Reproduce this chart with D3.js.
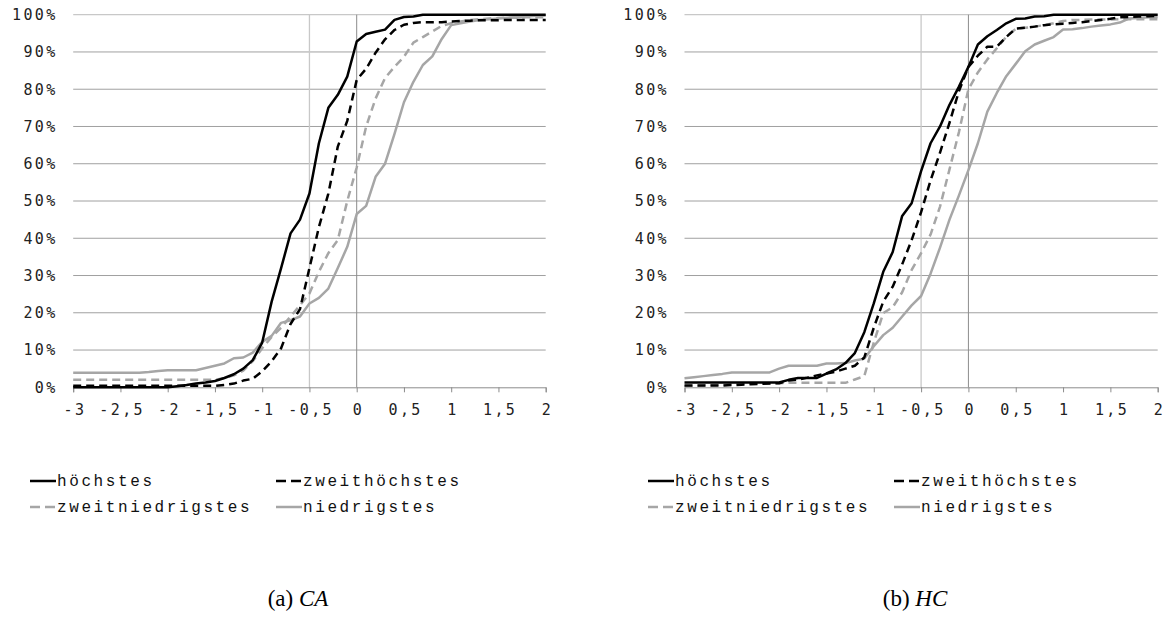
<!DOCTYPE html>
<html>
<head>
<meta charset="utf-8">
<script src="https://cdn.jsdelivr.net/npm/d3@7/dist/d3.min.js"></script>
<style>
  html, body { margin: 0; padding: 0; background: #fff; }
  svg { display: block; }
</style>
</head>
<body>
<svg id="chart" width="1166" height="629"></svg>
<script>
// ---------- DATA ----------
const xValues = [-3.0,-2.9,-2.8,-2.7,-2.6,-2.5,-2.4,-2.3,-2.2,-2.1,-2.0,-1.9,-1.8,-1.7,-1.6,-1.5,-1.4,-1.3,-1.2,-1.1,-1.0,
  -0.9,-0.8,-0.7,-0.6,-0.5,-0.4,-0.3,-0.2,-0.1,0.0,0.1,0.2,0.3,0.4,0.5,0.6,0.7,0.8,0.9,1.0,
  1.1,1.2,1.3,1.4,1.5,1.6,1.7,1.8,1.9,2.0];

const xTickValues = [-3,-2.5,-2,-1.5,-1,-0.5,0,0.5,1,1.5,2];
const xTickLabels = ["-3","-2,5","-2","-1,5","-1","-0,5","0","0,5","1","1,5","2"];
const yTickValues = [0,10,20,30,40,50,60,70,80,90,100];
const yTickLabels = ["0%","10%","20%","30%","40%","50%","60%","70%","80%","90%","100%"];

const seriesNames = ["höchstes","zweithöchstes","zweitniedrigstes","niedrigstes"];
const panelCaptions = [["(a) ","CA"],["(b) ","HC"]];

// CA panel (percent)
const caHoechstes = [0,0,0,0,0,0,0,0,0,0,0,
  0.3,0.6,1.0,1.3,1.7,2.5,3.5,5,7.3,12,
  23,32,41.3,45,52,65.5,75,78.5,83.4,92.8,
  94.8,95.4,96,98.6,99.4,99.5,100,100,100,100,
  100,100,100,100,100,100,100,100,100,100];
const caZweithoechstes = [0.4,0.4,0.4,0.4,0.4,0.4,0.4,0.4,0.4,0.4,0.4,0.4,0.4,0.4,0.4,0.4,
  0.6,1,1.8,2.3,4.3,7,10.5,17,21,32,43,52,64.6,71.5,82.5,
  85.5,89.8,93.4,95.9,97.3,97.8,98,98,98,98.2,
  98.3,98.4,98.5,98.5,98.5,98.6,98.6,98.6,98.6,98.6];
const caZweitniedrigstes = [2,2,2,2,2,2,2,2,2,2,2,2,2,2,2,2,
  2.5,3.2,4.5,7,10.5,13.5,16,19,22,25.2,31,36,39.5,50,59,
  70,77.5,83,86,88.7,92.5,94,95.5,97,97.7,
  98.2,98.6,98.8,99,99.1,99.2,99.2,99.3,99.3,99.3];
const caNiedrigstes = [3.9,3.9,3.9,3.9,3.9,3.9,3.9,3.9,
  4.1,4.4,4.6,4.6,4.6,4.6,5.2,5.8,
  6.4,7.8,8,9.3,12.2,13.8,17.3,18,19,22.5,
  24,26.5,32,37.7,46.5,
  48.7,56.5,60,68,76.5,82,86.5,88.8,93.5,97.2,
  97.7,98.2,98.6,98.8,99,99.2,99.4,99.5,99.7,99.8];

// HC panel (percent)
const hcHoechstes = [1.3,1.3,1.3,1.3,1.3,1.3,1.3,1.3,1.3,1.3,1.3,
  2,2.5,2.5,2.5,3.7,4.8,6.5,9.2,14.8,22.5,
  31,36.3,46,49.4,58,65.5,70,75.8,80.7,86,
  92,94.2,95.9,97.7,98.9,99,99.5,99.6,100,100,
  100,100,100,100,100,100,100,100,100,100];
const hcZweithoechstes = [0.5,0.5,0.5,0.5,0.5,0.6,0.7,0.8,0.9,1.0,1.1,
  1.8,2.1,2.6,3.2,3.7,4.2,5,5.8,8,16,
  23,27,33,39.5,47,55.5,63,71,79.5,86,
  89,91.4,91.4,94,96.3,96.5,96.8,97.2,97.4,97.6,
  97.8,98.0,98.3,98.6,98.9,99.3,99.4,99.5,99.6,99.7];
const hcZweitniedrigstes = [0.3,0.4,0.5,0.6,0.7,0.8,0.9,1.0,1.0,1.0,1.1,
  1.2,1.2,1.2,1.2,1.2,1.2,1.2,2.1,3.0,12,
  19.9,21.5,25.5,31.5,36,41,48.5,58.5,68.5,80,
  84.5,88,91,94.1,96.2,96.5,96.8,97.2,97.7,98.3,
  98.6,98.6,98.7,98.7,98.7,98.8,98.8,98.8,98.8,98.8];
const hcNiedrigstes = [2.4,2.7,3.0,3.3,3.6,4.0,4.0,4.0,4.0,4.0,5.0,
  5.8,5.8,5.8,5.8,6.4,6.4,6.5,7.2,7.7,11,
  14,16,19,22,24.5,30.5,37.5,45,51.5,58.3,
  65.5,74,79,83.5,86.8,90.2,92,93,94,96,
  96.1,96.4,96.8,97.1,97.4,97.9,99,99.1,99.3,99.4];

const panelSeries = [
  [caHoechstes, caZweithoechstes, caZweitniedrigstes, caNiedrigstes],
  [hcHoechstes, hcZweithoechstes, hcZweitniedrigstes, hcNiedrigstes]
];

// ---------- STYLE ----------
const seriesStyle = [
  {color: "#000000", dash: null},
  {color: "#000000", dash: "8,5"},
  {color: "#a6a6a6", dash: "8,5"},
  {color: "#a6a6a6", dash: null}
];
const legendDash = "10,5";

const panels = [
  {left: 73.2, right: 545.7, top: 14.7, bottom: 387.3, legendX: 30, captionX: 298},
  {left: 684.5, right: 1157.7, top: 14.7, bottom: 387.3, legendX: 648, captionX: 915}
];

const svg = d3.select("#chart");
const axisFont = "'DejaVu Sans Mono', monospace";
const legendFont = "'Liberation Mono', 'Courier New', monospace";

panels.forEach((p, pi) => {
  const g = svg.append("g");
  const x = d3.scaleLinear().domain([-3, 2]).range([p.left, p.right]);
  const y = d3.scaleLinear().domain([0, 100]).range([p.bottom, p.top]);

  // horizontal gridlines
  g.append("g").selectAll("line").data(yTickValues.filter(v => v > 0)).join("line")
    .attr("x1", p.left).attr("x2", p.right)
    .attr("y1", d => y(d)).attr("y2", d => y(d))
    .attr("stroke", d => d === 100 ? "#c8c8c8" : "#a0a0a0")
    .attr("stroke-width", d => d === 100 ? 1.3 : 1);

  // vertical light line at -0.5
  g.append("line")
    .attr("x1", x(-0.5)).attr("x2", x(-0.5))
    .attr("y1", y(100)).attr("y2", y(0))
    .attr("stroke", "#c8c8c8").attr("stroke-width", 1.3);

  // vertical axis line at 0
  g.append("line")
    .attr("x1", x(0)).attr("x2", x(0))
    .attr("y1", y(100)).attr("y2", y(0))
    .attr("stroke", "#8c8c8c").attr("stroke-width", 1);

  // x axis
  const xAxis = d3.axisBottom(x).tickValues(xTickValues)
    .tickSize(5).tickFormat((d, i) => xTickLabels[i]);
  const xa = g.append("g").attr("transform", `translate(0,${p.bottom})`).call(xAxis);
  xa.select(".domain").attr("stroke", "#8c8c8c");
  xa.selectAll(".tick line").attr("stroke", "#8c8c8c");
  xa.selectAll(".tick text")
    .attr("y", 17).attr("dy", "0.71em")
    .attr("dx", 1.2)
    .style("font-family", axisFont).style("font-size", "15px")
    .style("letter-spacing", "2.4px").attr("fill", "#222");

  // y axis labels
  const yAxis = d3.axisLeft(y).tickValues(yTickValues)
    .tickSize(0).tickFormat((d, i) => yTickLabels[i]);
  const ya = g.append("g").attr("transform", `translate(${p.left},0)`).call(yAxis);
  ya.select(".domain").remove();
  ya.selectAll(".tick text")
    .attr("x", -15.5)
    .style("font-family", axisFont).style("font-size", "15px")
    .style("letter-spacing", "2.4px").attr("fill", "#222");

  // series lines
  const line = d3.line().x((d, i) => x(xValues[i])).y(d => y(d));
  const order = [3, 2, 1, 0];
  order.forEach(si => {
    g.append("path")
      .datum(panelSeries[pi][si])
      .attr("d", line)
      .attr("fill", "none")
      .attr("stroke", seriesStyle[si].color)
      .attr("stroke-width", 2.5)
      .attr("stroke-linejoin", "round")
      .attr("stroke-dasharray", seriesStyle[si].dash);
  });

  // legend
  const legendPos = [[0, 0], [246, 0], [0, 1], [246, 1]];
  seriesNames.forEach((name, si) => {
    const lx = p.legendX + legendPos[si][0];
    const ly = 481 + legendPos[si][1] * 26;
    g.append("line")
      .attr("x1", lx).attr("x2", lx + 26)
      .attr("y1", ly).attr("y2", ly)
      .attr("stroke", seriesStyle[si].color)
      .attr("stroke-width", 2.5)
      .attr("stroke-dasharray", seriesStyle[si].dash ? legendDash : null);
    g.append("text")
      .attr("x", lx + 27).attr("y", ly + 5)
      .style("font-family", legendFont).style("font-size", "16px")
      .style("letter-spacing", "2.6px").attr("fill", "#111")
      .text(name);
  });

  // caption
  const cap = svg.append("text")
    .attr("x", p.captionX).attr("y", 606)
    .attr("text-anchor", "middle")
    .style("font-family", "'Liberation Serif', 'DejaVu Serif', serif")
    .style("font-size", "23px").attr("fill", "#000");
  cap.append("tspan").text(panelCaptions[pi][0]);
  cap.append("tspan").style("font-style", "italic").text(panelCaptions[pi][1]);
});
</script>
</body>
</html>
